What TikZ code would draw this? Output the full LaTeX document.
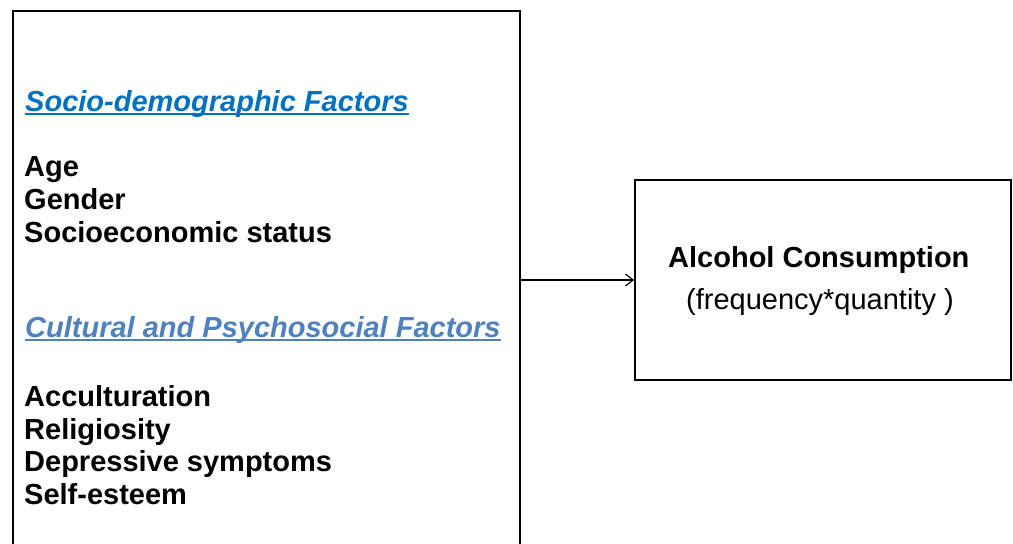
\documentclass[tikz,border=0pt]{standalone}
\usepackage{fontspec}
\setmainfont{Liberation Sans}
\usepackage{tikz}
\usetikzlibrary{arrows.meta}

\definecolor{headblue}{HTML}{0070C0}
\definecolor{headsteel}{HTML}{4F81BD}

\begin{document}
\begin{tikzpicture}[x=1pt, y=-1pt, ->, >={Straight Barb[length=8pt, width=12pt]},
	box/.style={draw, line width=1.6pt, inner sep=0pt},
	item/.style={anchor=base west, inner sep=0pt, font=\fontsize{29}{33}\selectfont\bfseries},
	heading/.style={item, font=\fontsize{29}{33}\selectfont\bfseries\itshape},
	uline/.style={-, line width=1.8pt}]
		\useasboundingbox (0, 0) rectangle (1013, 544);
		
		% factor box, runs off the bottom
		\node[box, minimum width=507pt, minimum height=538pt] (factors) at (266.5, 280) {};
		\node[heading, text=headblue] (socio) at (25, 111) {Socio-demographic Factors};
		\node[item] (age) at (24, 176.7) {Age};
		\node[item] (gender) at (24, 209.3) {Gender};
		\node[item] (ses) at (24, 242) {Socioeconomic status};
		\node[heading, text=headsteel] (cult) at (25, 337) {Cultural and Psychosocial Factors};
		\node[item] (accult) at (24, 406.5) {Acculturation};
		\node[item] (relig) at (24, 439) {Religiosity};
		\node[item] (depress) at (24, 471.5) {Depressive symptoms};
		\node[item] (esteem) at (24, 504) {Self-esteem};
		\draw[uline, headblue] ([yshift=-3pt]socio.base west) -- ([yshift=-3pt]socio.base east);
		\draw[uline, headsteel] ([yshift=-3pt]cult.base west) -- ([yshift=-3pt]cult.base east);
		
		% outcome
		\node[box, minimum width=376pt, minimum height=200pt] (outcome) at (823, 280) {};
		\node[item] (alc) at (668, 267) {Alcohol Consumption};
		\node[item, font=\fontsize{29}{33}\selectfont] (freq) at (686, 309) {(frequency*quantity )};
		
		\draw[line width=1.1pt] (factors.east) -- (outcome.west);
		
	\end{tikzpicture}
\end{document}
